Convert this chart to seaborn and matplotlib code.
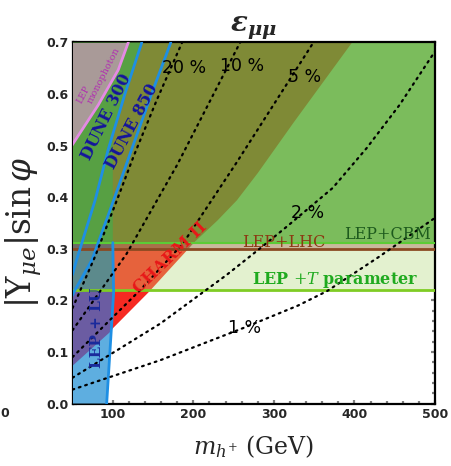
import numpy as np
import pandas as pd
import matplotlib
matplotlib.use("Agg")
import matplotlib.pyplot as plt
from matplotlib.patches import Polygon
from matplotlib.ticker import MultipleLocator
import seaborn as sns

sns.set_theme(style="ticks")
plt.rcParams["font.family"] = ["DejaVu Sans"]
plt.rcParams["mathtext.fontset"] = "dejavuserif"

# axis ranges
m_range = (50, 500)
y_range = (0.0, 0.7)

# horizontal limits on |Y| sin(phi)
lep_t_bound = 0.22
lep_lhc_bound = 0.30
lep_cbm_bound = 0.312

# CHARM II: excluded above this edge
charm_m = [50, 97, 144, 202, 230, 254, 280, 325, 397]
charm_y = [0.075, 0.141, 0.215, 0.314, 0.355, 0.394, 0.447, 0.546, 0.700]

# LEP + lepton universality: excluded left of this edge
lu_y = [0.0, 0.214, 0.312]
lu_m = [92.4, 101.0, 100.0]

# LEP monophoton: excluded above-left of this edge
mono_m = [49, 82, 106.8, 119.2]
mono_y = [0.50, 0.579, 0.647, 0.70]

# DUNE sensitivities
dune300_m = [50, 55, 78, 94, 115, 136]
dune300_y = [0.25, 0.278, 0.394, 0.491, 0.60, 0.70]
dune850_m = [50, 52, 74, 101, 123, 148, 172]
dune850_y = [0.21, 0.217, 0.278, 0.394, 0.491, 0.60, 0.70]

# epsilon_mumu contours
eps1_m = [50, 159, 263, 330, 366, 430, 500]
eps1_y = [0.027, 0.084, 0.147, 0.190, 0.218, 0.284, 0.360]
eps2_m = [50, 159, 241, 283, 316, 373, 415, 456, 500]
eps2_y = [0.050, 0.155, 0.249, 0.301, 0.343, 0.418, 0.495, 0.579, 0.683]
eps5_m = [50, 134, 187, 254, 349]
eps5_y = [0.090, 0.220, 0.310, 0.468, 0.700]
eps10_m = [50, 117, 180, 258]
eps10_y = [0.142, 0.290, 0.463, 0.700]
eps20_m = [50, 78, 109, 126, 155, 186]
eps20_y = [0.185, 0.285, 0.410, 0.480, 0.590, 0.700]

fig = plt.figure(figsize=(4.51, 4.66), dpi=100)
ax = fig.add_axes([0.1608, 0.1341, 0.8038, 0.7747])
ax.set_xlim(*m_range)
ax.set_ylim(*y_range)
ax.set_facecolor("white")

x0, x1 = m_range
top = y_range[1]


def band(ylo, yhi, color, clip=None, z=1):
    p = ax.fill_between([x0, x1], [ylo, ylo], [yhi, yhi], color=color, lw=0, zorder=z)
    if clip is not None:
        p.set_clip_path(clip)
    return p


def region(verts):
    patch = Polygon(verts, closed=True, transform=ax.transData, fc="none", ec="none")
    ax.add_patch(patch)
    return patch


# base bands
band(lep_t_bound, lep_lhc_bound, "#e3f1cf", z=1)
band(lep_lhc_bound, lep_cbm_bound, "#c8b99c", z=1)
band(lep_cbm_bound, top, "#7bbc5c", z=1)

# CHARM II region
charm_poly = region(list(zip(charm_m, charm_y)) + [(x0, top)])
band(0.0, lep_t_bound, "#f62a22", clip=charm_poly, z=2)
band(lep_t_bound, lep_lhc_bound, "#e6623c", clip=charm_poly, z=2)
band(lep_lhc_bound, lep_cbm_bound, "#a9704a", clip=charm_poly, z=2)
band(lep_cbm_bound, top, "#7f8a36", clip=charm_poly, z=2)

# LEP + LU region
lu_poly = region([(x0, 0.0)] + list(zip(lu_m, lu_y)) + [(x0, lu_y[-1])])
band(0.0, lep_t_bound, "#5eaee0", clip=lu_poly, z=3)
lu_above = ax.fill_between(charm_m, charm_y, [top] * len(charm_m), color="#6b5ca2",
                           lw=0, zorder=4)
lu_above.set_clip_path(lu_poly)
band(lep_t_bound, lep_lhc_bound, "#5c8a8c", clip=lu_poly, z=4)
band(lep_lhc_bound, lep_cbm_bound, "#6f6a66", clip=lu_poly, z=4)

# region left of max(LU edge, DUNE 300) above the CBM line
left_green = [(x0, lep_cbm_bound), (lu_m[-1], lep_cbm_bound), (lu_m[-1], 0.52)] + \
    [(m, y) for m, y in zip(dune300_m, dune300_y) if m > lu_m[-1]] + [(x0, top)]
ax.add_patch(Polygon(left_green, closed=True, fc="#57a043", ec="none", zorder=5))

# LEP monophoton
ax.fill_between(mono_m, mono_y, [top] * len(mono_m), color="#a99a98", lw=0, zorder=6)

# horizontal boundaries
ax.axhline(lep_t_bound, color="#7fcc24", lw=2, zorder=7)
ax.axhline(lep_lhc_bound, color="#8b4a22", lw=2, zorder=7)
ax.axhline(lep_cbm_bound, color="#5ccc36", lw=1.5, zorder=7)

lines = pd.DataFrame({
    "m": mono_m + dune300_m + dune850_m + lu_m,
    "y": mono_y + dune300_y + dune850_y + lu_y,
    "curve": ["mono"] * len(mono_m) + ["d300"] * len(dune300_m)
    + ["d850"] * len(dune850_m) + ["lu"] * len(lu_m),
})
pal = {"mono": "#e48ae4", "d300": "#1e8fe4", "d850": "#1e8fe4", "lu": "#1e8fe4"}
sns.lineplot(data=lines, x="m", y="y", hue="curve", palette=pal, sort=False,
             estimator=None, lw=2, legend=False, ax=ax, zorder=8)

contours = pd.DataFrame({
    "m": eps1_m + eps2_m + eps5_m + eps10_m + eps20_m,
    "y": eps1_y + eps2_y + eps5_y + eps10_y + eps20_y,
    "level": ["1"] * len(eps1_m) + ["2"] * len(eps2_m) + ["5"] * len(eps5_m)
    + ["10"] * len(eps10_m) + ["20"] * len(eps20_m),
})
for lvl, grp in contours.groupby("level"):
    sns.lineplot(data=grp, x="m", y="y", color="black", lw=1.6, sort=False, estimator=None,
                 linestyle=(0, (0.8, 2.2)), dash_capstyle="round", ax=ax, zorder=9)

# contour labels
lab_kw = dict(fontsize=12.5, color="black", ha="center", va="center", zorder=10)
ax.text(188, 0.650, "20 %", **lab_kw)
ax.text(260, 0.655, "10 %", **lab_kw)
ax.text(338.5, 0.633, "5 %", **lab_kw)
ax.text(341.5, 0.369, "2 %", **lab_kw)
ax.text(263, 0.147, "1 %", **lab_kw)

# region labels
serif = "DejaVu Serif"
ax.text(64, 0.600, "LEP", fontsize=6.5, color="#b030b0", family=serif, rotation=62,
        ha="center", va="center", zorder=10)
ax.text(89, 0.636, "monophoton", fontsize=7, color="#b030b0", family=serif, rotation=63,
        ha="center", va="center", zorder=10)
ax.text(92.5, 0.555, "DUNE 300", fontsize=11.5, color="#14149c", family=serif, weight="bold",
        rotation=64, ha="center", va="center", zorder=10)
ax.text(124.5, 0.537, "DUNE 850", fontsize=11.5, color="#14149c", family=serif, weight="bold",
        rotation=62, ha="center", va="center", zorder=10)
ax.text(171, 0.283, "CHARM II", fontsize=12, color="#e81818", family=serif, weight="bold",
        rotation=44, ha="center", va="center", zorder=10)
ax.text(312, 0.313, "LEP+LHC", fontsize=11.5, color="#8b3a12", family=serif,
        ha="center", va="center", zorder=10)
ax.text(440.5, 0.3275, "LEP+CBM", fontsize=11.5, color="#1d5a1d", family=serif,
        ha="center", va="center", zorder=10)
ax.text(375.7, 0.240, r"LEP $+\mathit{T}$ parameter", fontsize=11.5, color="#1faa1f",
        family=serif, weight="bold", ha="center", va="center", zorder=10)
ax.text(80.4, 0.146, "LEP + LU", fontsize=11, color="#1a2a9c", family=serif, weight="bold",
        rotation=90, ha="center", va="center", zorder=10)

# axes cosmetics
for s in ax.spines.values():
    s.set_color("black")
    s.set_linewidth(1.6)
ax.xaxis.set_major_locator(MultipleLocator(100))
ax.xaxis.set_minor_locator(MultipleLocator(20))
ax.yaxis.set_major_locator(MultipleLocator(0.1))
ax.yaxis.set_minor_locator(MultipleLocator(0.02))
ax.tick_params(which="both", direction="in", top=True, right=True, color="#808080",
               width=1.6, labelsize=9, pad=3)
ax.tick_params(which="major", length=3)
ax.tick_params(which="minor", length=2)
xt = [100, 200, 300, 400, 500]
yt = [0.0, 0.1, 0.2, 0.3, 0.4, 0.5, 0.6, 0.7]
ax.set_xticks(xt)
ax.set_yticks(yt)
ax.set_xticklabels([str(v) for v in xt], fontweight="bold")
ax.set_yticklabels([f"{v:.1f}" for v in yt], fontweight="bold")
ax.set_xlabel(r"$m_{h^{+}}$ (GeV)", fontsize=17, family=serif, labelpad=9)
ax.set_ylabel(r"$|\mathrm{Y}_{\mu e}|\sin\varphi$", fontsize=23.5)
ax.yaxis.set_label_coords(-0.08, 0.475)
ax.set_title(r"$\mathbfit{\varepsilon}_{\mathbfit{\mu\mu}}$", fontsize=20, pad=2)
fig.text(0.0, 0.113, "0", fontsize=9, weight="bold", ha="left", va="center")

fig.savefig("out.png", dpi=100)
